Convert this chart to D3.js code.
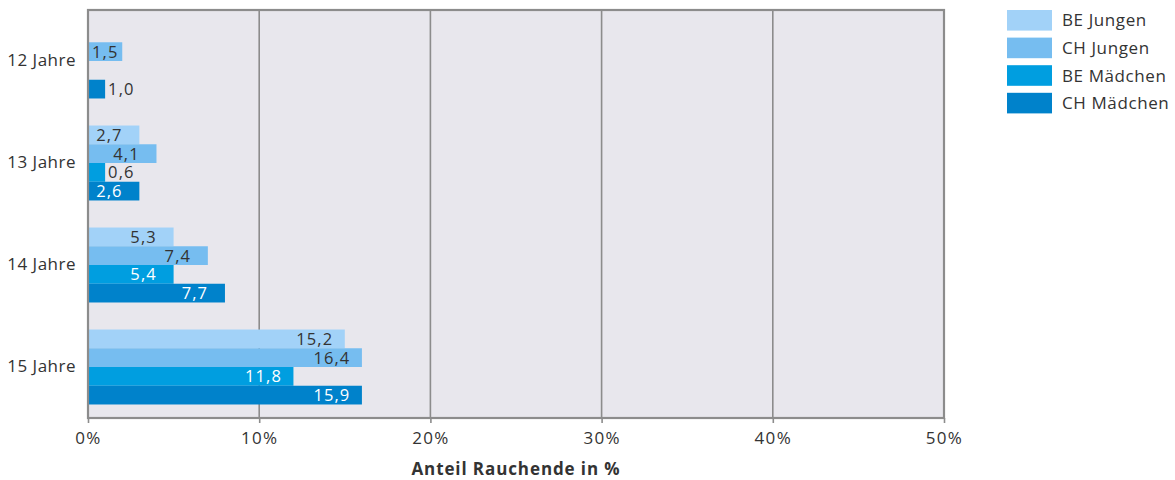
<!DOCTYPE html>
<html>
<head>
<meta charset="utf-8">
<script src="https://cdn.jsdelivr.net/npm/d3@7"></script>
<style>
  html, body { margin: 0; padding: 0; background: #ffffff; }
  svg { display: block; font-family: "Open Sans", sans-serif; }
</style>
</head>
<body>
<svg id="chart" width="1175" height="480"></svg>
<script>
// ---- data ----
const categories = ["12 Jahre", "13 Jahre", "14 Jahre", "15 Jahre"];
const seriesNames = ["BE Jungen", "CH Jungen", "BE Mädchen", "CH Mädchen"];
const beJungen   = [null, 2.7, 5.3, 15.2];
const chJungen   = [1.5, 4.1, 7.4, 16.4];
const beMaedchen = [null, 0.6, 5.4, 11.8];
const chMaedchen = [1.0, 2.6, 7.7, 15.9];
const xTickValues = [0, 10, 20, 30, 40, 50];
const axisTitle = "Anteil Rauchende in %";

const seriesValues = [beJungen, chJungen, beMaedchen, chMaedchen];
const colors = ["#a2d2f8", "#76bdf0", "#009ee0", "#0082cb"];
const labelOnDark = [false, false, true, true];

const svg = d3.select("#chart");
const margin = { left: 88, right: 231, top: 10, bottom: 62 };
const W = 1175, H = 480;
const x0 = margin.left, x1 = W - margin.right, y0 = margin.top, y1 = H - margin.bottom;

const x = d3.scaleLinear().domain([0, 50]).range([x0, x1]);
const y = d3.scaleBand().domain(categories).range([y0, y1]).paddingInner(0.265).paddingOuter(0.1325);
const ySub = d3.scaleBand().domain(seriesNames).range([0, y.bandwidth()]);

const locale = d3.formatLocale({ decimal: ",", thousands: ".", grouping: [3], currency: ["", " €"] });
const fmt = locale.format(".1f");

// background
svg.append("rect").attr("x", x0).attr("y", y0).attr("width", x1 - x0).attr("height", y1 - y0)
  .attr("fill", "#e8e7ed");

// grid lines
svg.append("g").selectAll("line").data(xTickValues.slice(1, -1)).join("line")
  .attr("x1", d => x(d)).attr("x2", d => x(d)).attr("y1", y0).attr("y2", y1)
  .attr("stroke", "#8c8c8c").attr("stroke-width", 1.6);

// bars (drawn at the rounded value, as in the original chart)
const rows = [];
categories.forEach((c, i) => {
  seriesNames.forEach((s, j) => {
    const v = seriesValues[j][i];
    if (v != null) rows.push({ cat: c, ser: s, j, v });
  });
});

svg.append("g").selectAll("rect").data(rows).join("rect")
  .attr("x", x(0))
  .attr("y", d => y(d.cat) + ySub(d.ser))
  .attr("width", d => x(Math.round(d.v)) - x(0))
  .attr("height", ySub.bandwidth())
  .attr("fill", d => colors[d.j]);

// value labels
const lbl = svg.append("g").selectAll("text").data(rows).join("text")
  .attr("y", d => y(d.cat) + ySub(d.ser) + ySub.bandwidth() / 2)
  .attr("dy", "0.36em")
  .attr("font-size", 16.5)
  .attr("letter-spacing", 1.1)
  .text(d => fmt(d.v));
lbl.each(function (d) {
  const t = d3.select(this);
  const w = this.getComputedTextLength();
  const end = x(Math.round(d.v));
  const barW = end - x(0);
  if (barW >= w + 6) {
    const cx = Math.max(end - 30, x(0) + 4 + w / 2);
    t.attr("x", cx).attr("text-anchor", "middle")
     .attr("fill", labelOnDark[d.j] ? "#ffffff" : "#333333");
  } else {
    t.attr("x", end + 3).attr("text-anchor", "start").attr("fill", "#333333");
  }
});

// frame
svg.append("rect").attr("x", x0).attr("y", y0).attr("width", x1 - x0).attr("height", y1 - y0)
  .attr("fill", "none").attr("stroke", "#8c8c8c").attr("stroke-width", 2.2);

// x axis
const xAxis = svg.append("g").attr("transform", `translate(0,${y1})`)
  .call(d3.axisBottom(x).tickValues(xTickValues).tickSize(5).tickPadding(9).tickFormat(d => d + "%"));
xAxis.select(".domain").remove();
xAxis.selectAll(".tick line").attr("stroke", "#8c8c8c").attr("stroke-width", 1.6);
xAxis.selectAll(".tick text").attr("font-size", 17).attr("letter-spacing", 1.3)
  .attr("fill", "#333333").attr("font-family", "Open Sans, sans-serif");

// y axis
const yAxis = svg.append("g").attr("transform", `translate(${x0},0)`)
  .call(d3.axisLeft(y).tickSize(0).tickPadding(12));
yAxis.select(".domain").remove();
yAxis.selectAll(".tick text").attr("font-size", 17).attr("letter-spacing", 0.5)
  .attr("fill", "#333333").attr("font-family", "Open Sans, sans-serif");

// axis title
svg.append("text").attr("x", (x0 + x1) / 2).attr("y", 475).attr("text-anchor", "middle")
  .attr("font-size", 17).attr("font-weight", "bold").attr("letter-spacing", 0.9)
  .attr("fill", "#333333").text(axisTitle);

// legend
const leg = svg.append("g").attr("transform", "translate(1007,10)");
const li = leg.selectAll("g").data(seriesNames).join("g")
  .attr("transform", (d, i) => `translate(0,${i * 27.6})`);
li.append("rect").attr("width", 45).attr("height", 20.6).attr("fill", (d, i) => colors[i]);
li.append("text").attr("x", 55).attr("y", 10.3).attr("dy", "0.36em")
  .attr("font-size", 17).attr("letter-spacing", 0.6).attr("fill", "#333333").text(d => d);
</script>
</body>
</html>
